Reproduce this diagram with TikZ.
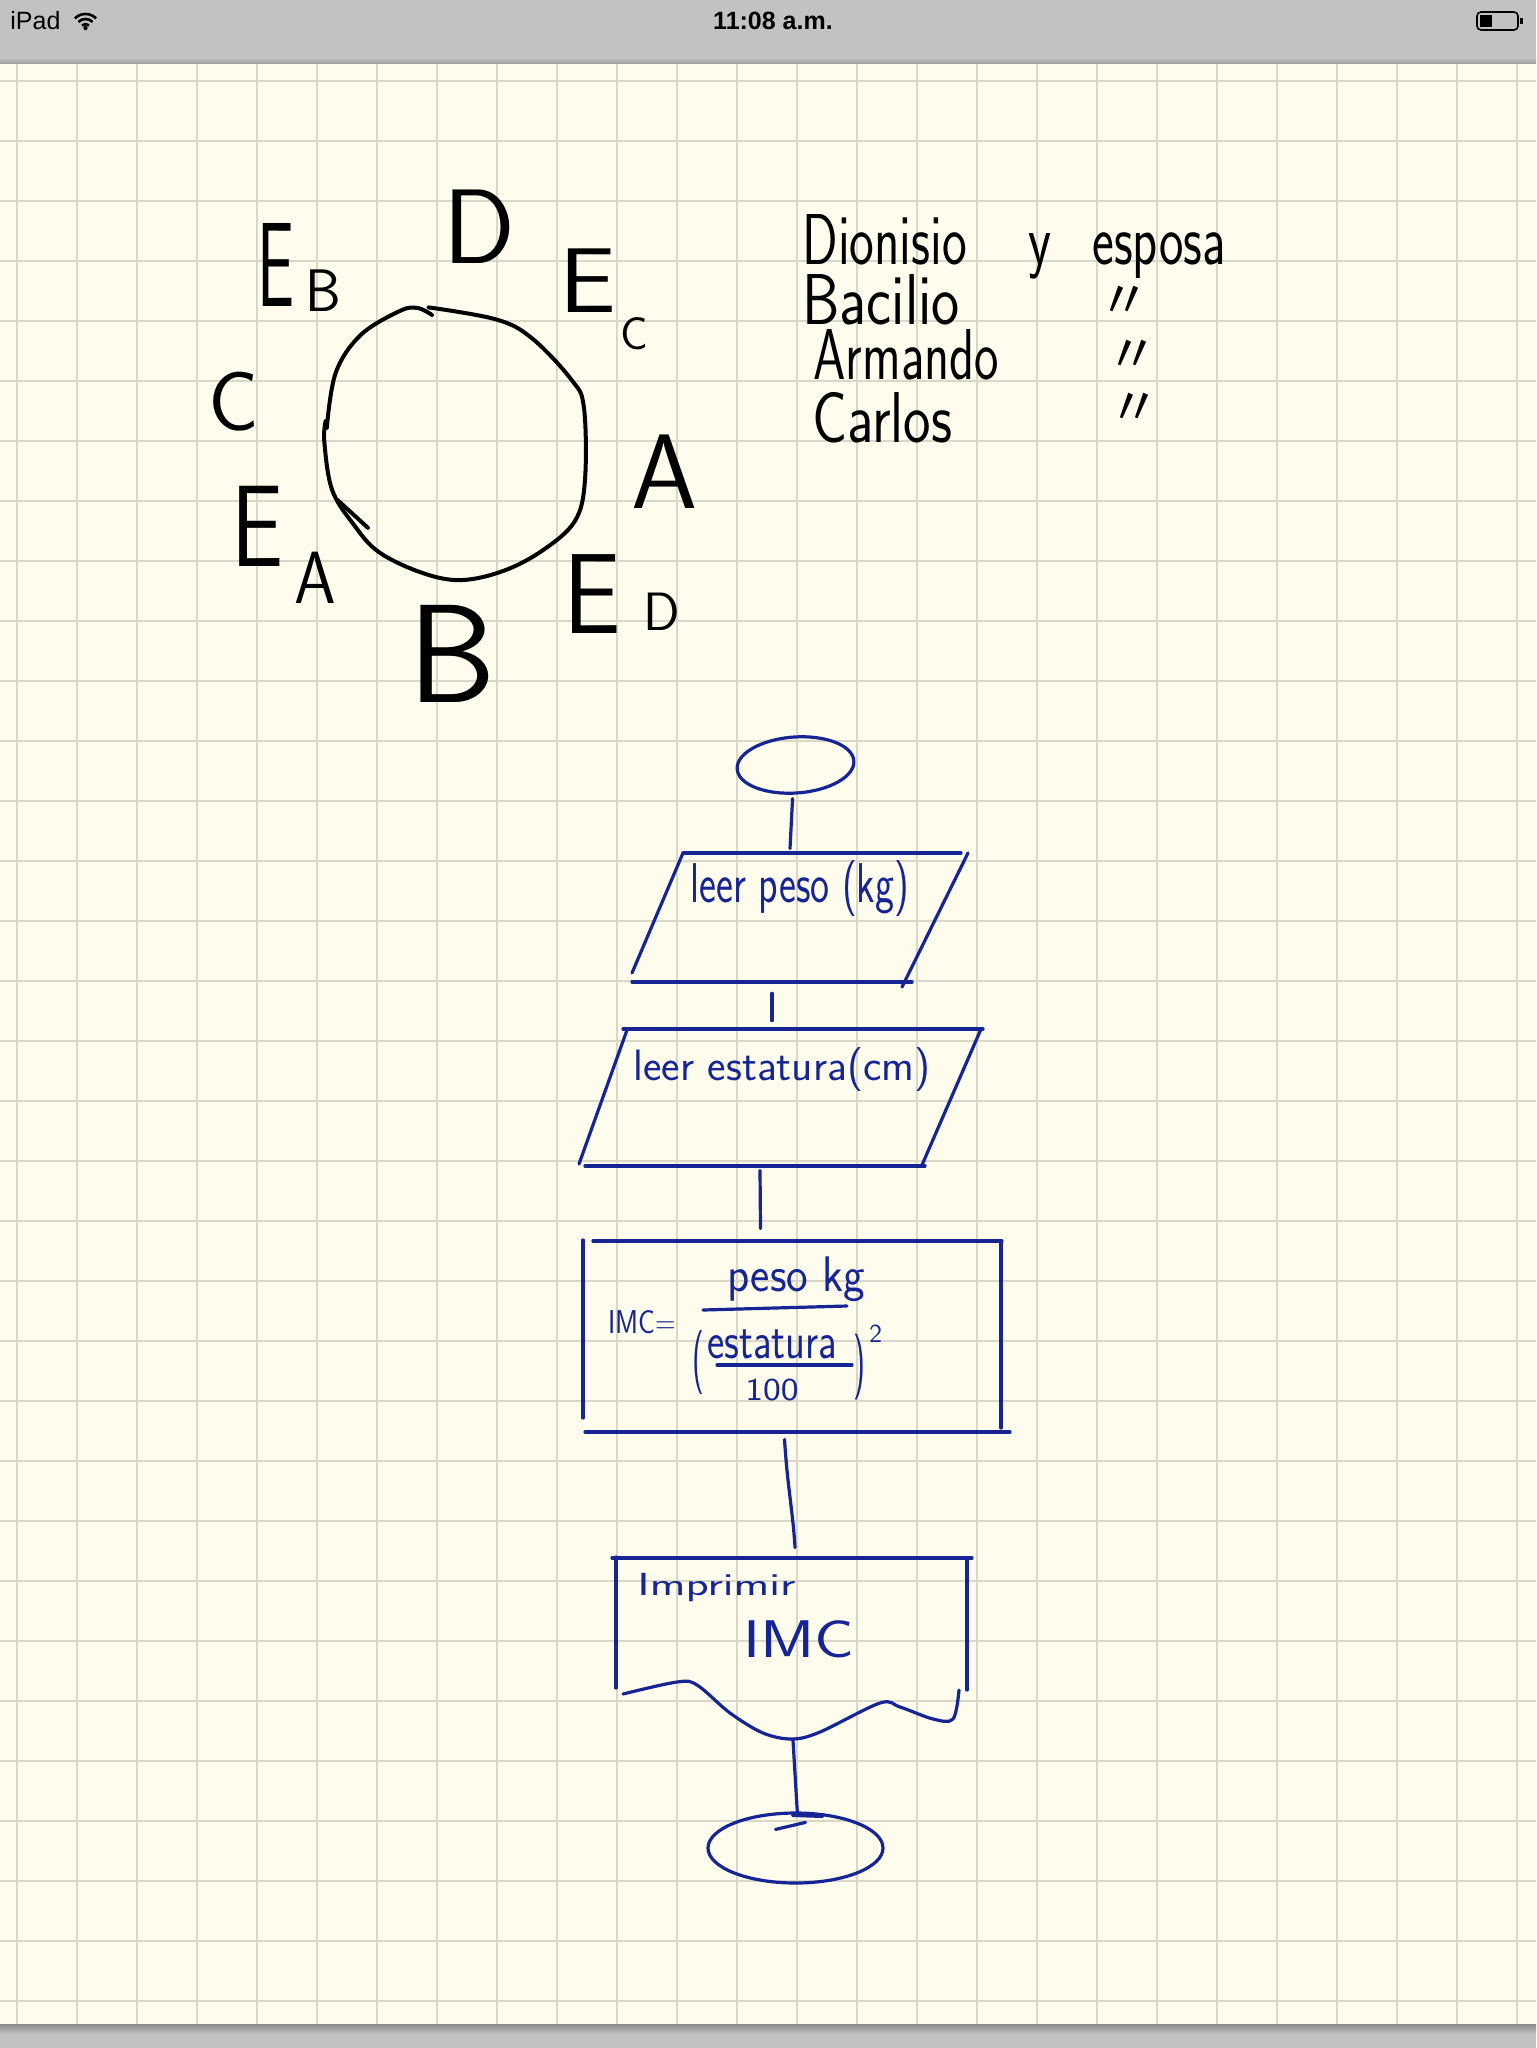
\documentclass[tikz,border=0pt]{standalone}
\usepackage{fontspec}
\usetikzlibrary{shapes.geometric,calc}
\newfontfamily\uifont{Liberation Sans}
\newfontfamily\cjk{Noto Sans CJK SC}
\definecolor{paper}{RGB}{254,252,236}
\definecolor{gridc}{RGB}{218,215,198}
\definecolor{barc}{RGB}{194,194,194}
\definecolor{fcblue}{RGB}{22,36,150}
\newcommand{\hsz}[1]{\fontsize{#1}{#1}\selectfont}
\newcommand{\nm}[2]{\scalebox{#1}[1.2]{#2}}
\tikzset{
  gridline/.style={draw=gridc, line width=0.75pt},
  ink/.style={draw=black, line width=2pt, line cap=round, line join=round},
  blueink/.style={draw=fcblue, line width=1.6pt, line cap=round, line join=round},
  conn/.style={blueink},
  hand/.style={inner sep=0pt, text=black, font=\sffamily},
  bhand/.style={inner sep=0pt, text=fcblue, font=\sffamily},
  box/.style={draw=none, inner sep=0pt},
  term/.style={ellipse, draw=fcblue, line width=1.6pt, inner sep=0pt},
  dit/.style={inner sep=0pt, text=black, font=\cjk\hsz{26}},
}
\begin{document}
\begin{tikzpicture}[x=0.5pt,y=-0.5pt]
\useasboundingbox (0,0) rectangle (1536,2048);
% paper
\fill[paper] (0,0) rectangle (1536,2048);
\foreach \i in {0,...,25} \draw[gridline] ({17+60*\i},64) -- ({17+60*\i},2024);
\foreach \j in {0,...,32} \draw[gridline] (0,{81+60*\j}) -- (1536,{81+60*\j});
% status bar
\fill[barc] (0,0) rectangle (1536,64);
\shade[top color=barc, bottom color=barc!80!black] (0,58) rectangle (1536,64);
\node[inner sep=0pt, anchor=base west, font=\uifont\hsz{12.5}] (ipad) at (10,30) {iPad};
\node[inner sep=0pt, anchor=base, font=\uifont\bfseries\hsz{12.5}] (clock) at (773,30) {11:08 a.m.};
\foreach \r in {5,10,15} \draw[line width=1.3pt] ({85.5-0.707*\r},{29-0.707*\r}) arc[start angle=225,end angle=315,radius=\r];
\fill (85.5,28) circle[radius=2.2];
\draw[line width=0.8pt, rounded corners=2pt] (1477,12) rectangle (1518,30);
\fill (1520,18) rectangle (1523,24);
\fill (1480,15) rectangle (1492,27);
% bottom bar
\fill[barc] (0,2024) rectangle (1536,2048);
\shade[top color=barc!72!black, bottom color=barc] (0,2024) rectangle (1536,2034);

% ---- round table sketch ----
\draw[ink] plot[smooth, tension=0.6] coordinates {(428.6,307.4) (496.4,319.5) (532.1,338.4) (571.4,379.7) (583.9,407.3) (585,479.6) (575,520.9) (542.9,550.2) (503.6,570.8) (460.7,580.1) (421.4,572.6) (378.6,551.9) (353.6,524.4) (332.1,489.9) (324.3,441.7) (325.7,421)};
\draw[ink] plot[smooth, tension=0.6] coordinates {(326.8,427.9) (335.7,372.8) (360.7,335) (400,310.9) (417.9,308.1) (432,315)};
\draw[ink] (337.5,500) -- (367.9,527.8);

\node[hand, font=\sffamily\hsz{53}] (lD) at (479,227) {D};
\node[hand, font=\sffamily\hsz{46}] (lEc) at (588,281) {\scalebox{1.1}[1]{E}};
\node[hand, font=\sffamily\hsz{23}] (lEcs) at (634,334) {C};
\node[hand, font=\sffamily\hsz{53}] (lA) at (665,472) {A};
\node[hand, font=\sffamily\hsz{57}] (lEd) at (592,594) {\scalebox{0.9}[1]{E}};
\node[hand, font=\sffamily\hsz{27}] (lEds) at (662,612) {D};
\node[hand, font=\sffamily\hsz{70}] (lB) at (452,654) {B};
\node[hand, font=\sffamily\hsz{58}] (lEa) at (258,526) {\scalebox{0.8}[1]{E}};
\node[hand, font=\sffamily\hsz{37}] (lEas) at (315,578) {\scalebox{0.9}[1]{A}};
\node[hand, font=\sffamily\hsz{42}] (lC) at (234,402) {C};
\node[hand, font=\sffamily\hsz{60}] (lEb) at (276,265) {\scalebox{0.55}[1]{E}};
\node[hand, font=\sffamily\hsz{30}] (lEbs) at (323,291) {\scalebox{0.95}[1]{B}};

% ---- names list ----
\node[hand, anchor=base west, font=\sffamily\hsz{30}] (names) at (802,265) {%
  \vtop{\baselineskip=30pt \lineskiplimit=-200pt \lineskip=0pt
    \hbox{\makebox[113pt][l]{\nm{0.876}{Dionisio}}\makebox[32pt][l]{\nm{0.888}{y}}\nm{0.864}{esposa}}
    \hbox{\nm{0.996}{Bacilio}}
    \vskip-2.5pt
    \hbox{\hspace*{5.5pt}\nm{0.864}{Armando}}
    \vskip1.5pt
    \hbox{\hspace*{5pt}\nm{0.972}{Carlos}}
  }};
\node[dit] (d2) at (1124,302) {〃};
\node[dit] (d3) at (1132,356) {〃};
\node[dit] (d4) at (1134,409) {〃};

% ---- flowchart ----
\node[term, minimum width=58.5pt, minimum height=28pt, rotate=4] (start) at (795.5,765) {};
\node[box, minimum width=168pt, minimum height=64.5pt] (p1) at (800,917.5) {};
\node[box, minimum width=202pt, minimum height=68.5pt] (p2) at (781,1097.5) {};
\node[box, minimum width=213.5pt, minimum height=95.5pt] (proc) at (796.5,1336.5) {};
\node[box, minimum width=180pt, minimum height=90.5pt] (doc) at (792,1648.5) {};
\node[term, minimum width=87.5pt, minimum height=35pt] (end) at (795.5,1848) {};

% input 1
\draw[blueink] (683,853) -- (961,853);
\draw[blueink] (968,853) -- (902,987);
\draw[blueink] (683,853) -- (632,973);
\draw[blueink] (632,982) -- (912,982);
\node[bhand, anchor=base west, font=\sffamily\hsz{28}] (t1) at (690,902) {\scalebox{0.72}[1]{leer peso (kg)}};
% input 2
\draw[blueink] (623,1029) -- (983,1029);
\draw[blueink] (981,1029) -- (922,1165);
\draw[blueink] (627,1030) -- (579,1164);
\draw[blueink] (585,1166) -- (925,1166);
\node[bhand, anchor=base west, font=\sffamily\hsz{22}] (t2) at (633,1080) {leer estatura(cm)};
% process
\draw[blueink] (593,1241) -- (1002,1241);
\draw[blueink] (583,1240) -- (583,1418);
\draw[blueink] (1001,1242) -- (1001,1428);
\draw[blueink] (585,1432) -- (1010,1432);
\node[bhand, anchor=base west, font=\sffamily\hsz{16.5}] (f1) at (608,1333) {\scalebox{0.85}[1]{IMC=}};
\node[bhand, anchor=base west, font=\sffamily\hsz{25}] (f2) at (727,1291) {\scalebox{0.92}[1]{peso kg}};
\draw[blueink] (703,1310) -- (847,1306);
\node[bhand, anchor=east, font=\sffamily\hsz{32}] (f3) at (705,1363) {\scalebox{0.5}[1]{(}};
\node[bhand, anchor=base west, font=\sffamily\hsz{26}] (f4) at (707,1358) {\scalebox{0.79}[1]{estatura}};
\draw[blueink] (717,1365) -- (852,1365);
\node[bhand, anchor=base west, font=\sffamily\hsz{16}] (f5) at (745,1400) {\scalebox{1.18}[1]{100}};
\node[bhand, anchor=west, font=\sffamily\hsz{33}] (f6) at (853,1367) {\scalebox{0.5}[1]{)}};
\node[bhand, anchor=base west, font=\sffamily\hsz{13}] (f7) at (869,1342) {2};
% document
\draw[blueink] (612,1558) -- (972,1558);
\draw[blueink] (616,1557) -- (616,1688);
\draw[blueink] (967,1560) -- (967,1690);
\draw[blueink] plot[smooth, tension=0.55] coordinates {(623,1694) (677,1682) (697,1685) (730,1713) (763,1733) (792,1739) (820,1732) (880,1703) (900,1707) (933,1719) (953,1719) (959,1690)};
\node[bhand, anchor=base west, font=\sffamily\hsz{16}] (t3) at (637,1595) {\scalebox{1.5}[1]{Imprimir}};
\node[bhand, anchor=base west, font=\sffamily\hsz{26.5}] (t4) at (743,1657) {\scalebox{1.25}[1]{IMC}};

% connectors
\draw[conn] ($(start.south)+(-5,4)$) -- ($(p1.north)+(-10,-4)$);
\draw[conn] ($(p1.south)+(-28,11)$) -- ($(p2.north)+(-9,-8)$);
\draw[conn] ($(p2.south)+(-21,4)$) -- ($(proc.north)+(-36,-12)$);
\draw[conn] ($(proc.south)+(-12,7)$) .. controls ($(proc.south)+(-9,55)$) and ($(doc.north)+(1,-45)$) .. ($(doc.north)+(3,-10)$);
\draw[conn] ($(doc.south)+(1,1)$) -- ($(end.north)+(2,4)$);
\draw[blueink] ($(end.north)+(-3,4)$) -- ($(end.north)+(27,5)$);
\draw[blueink] ($(end.north)+(-20,18)$) -- ($(end.north)+(10,11)$);
\end{tikzpicture}
\end{document}
